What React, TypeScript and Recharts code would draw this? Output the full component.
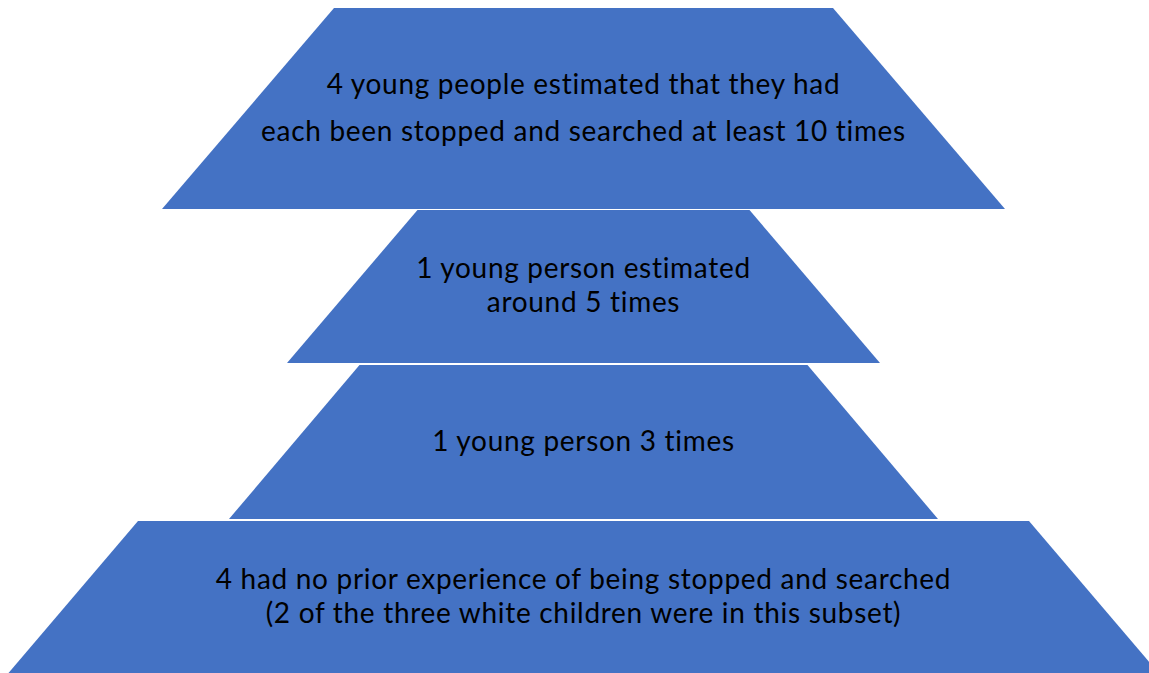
import React from 'react';
import { ComposedChart, Area, XAxis, YAxis, ReferenceDot } from 'recharts';

// one tier per group of young people, top of the pyramid first
const tiers = ['10+ times', 'around 5 times', '3 times', 'no prior experience'];
const topWidth = [499, 332, 448, 891];
const bottomWidth = [843, 593, 709, 1150];
const tierTop = [8, 210, 365, 521];
const tierBottom = [209, 363, 519, 673];
const labelLines = [
  ['4 young people estimated that they had', 'each been stopped and searched at least 10 times'],
  ['1 young person estimated', 'around 5 times'],
  ['1 young person 3 times'],
  ['4 had no prior experience of being stopped and searched', '(2 of the three white children were in this subset)'],
];

const W = 1149;
const H = 673;
const FILL = '#4472C4';
const CENTER = 583.5;
const lineGap = [47, 34, 34, 34];

const rows: Array<Record<string, any>> = [];
tiers.forEach((_, i) => {
  rows.push({ y: tierTop[i], ['t' + i]: [-topWidth[i] / 2, topWidth[i] / 2] });
  rows.push({ y: tierBottom[i], ['t' + i]: [-bottomWidth[i] / 2, bottomWidth[i] / 2] });
});

const labels: Array<{ y: number; text: string }> = [];
labelLines.forEach((lines, i) => {
  const mid = (tierTop[i] + tierBottom[i]) / 2 - 1;
  lines.forEach((text, j) => {
    labels.push({ y: mid + (j - (lines.length - 1) / 2) * lineGap[i], text });
  });
});

export default function App() {
  return (
    <div style={{ position: 'absolute', left: 0, top: 0, background: '#fff' }}>
      <ComposedChart
        width={W}
        height={H}
        data={rows}
        layout="vertical"
        margin={{ top: 0, right: 0, bottom: 0, left: 0 }}
      >
        <XAxis type="number" hide domain={[-CENTER, W - CENTER]} allowDataOverflow />
        <YAxis type="number" dataKey="y" hide domain={[0, H]} allowDataOverflow />
        {tiers.map((name, i) => (
          <Area
            key={name}
            name={name}
            dataKey={'t' + i}
            type="linear"
            fill={FILL}
            fillOpacity={1}
            stroke="none"
            dot={false}
            activeDot={false}
            isAnimationActive={false}
          />
        ))}
        {labels.map((l, i) => (
          <ReferenceDot
            key={i}
            x={0}
            y={l.y}
            r={0}
            fill="none"
            stroke="none"
            label={{
              value: l.text,
              position: 'center',
              fill: '#000',
              fontSize: 28,
              letterSpacing: 0.7,
              fontFamily: 'Lato, "Open Sans", sans-serif',
            }}
          />
        ))}
      </ComposedChart>
    </div>
  );
}
